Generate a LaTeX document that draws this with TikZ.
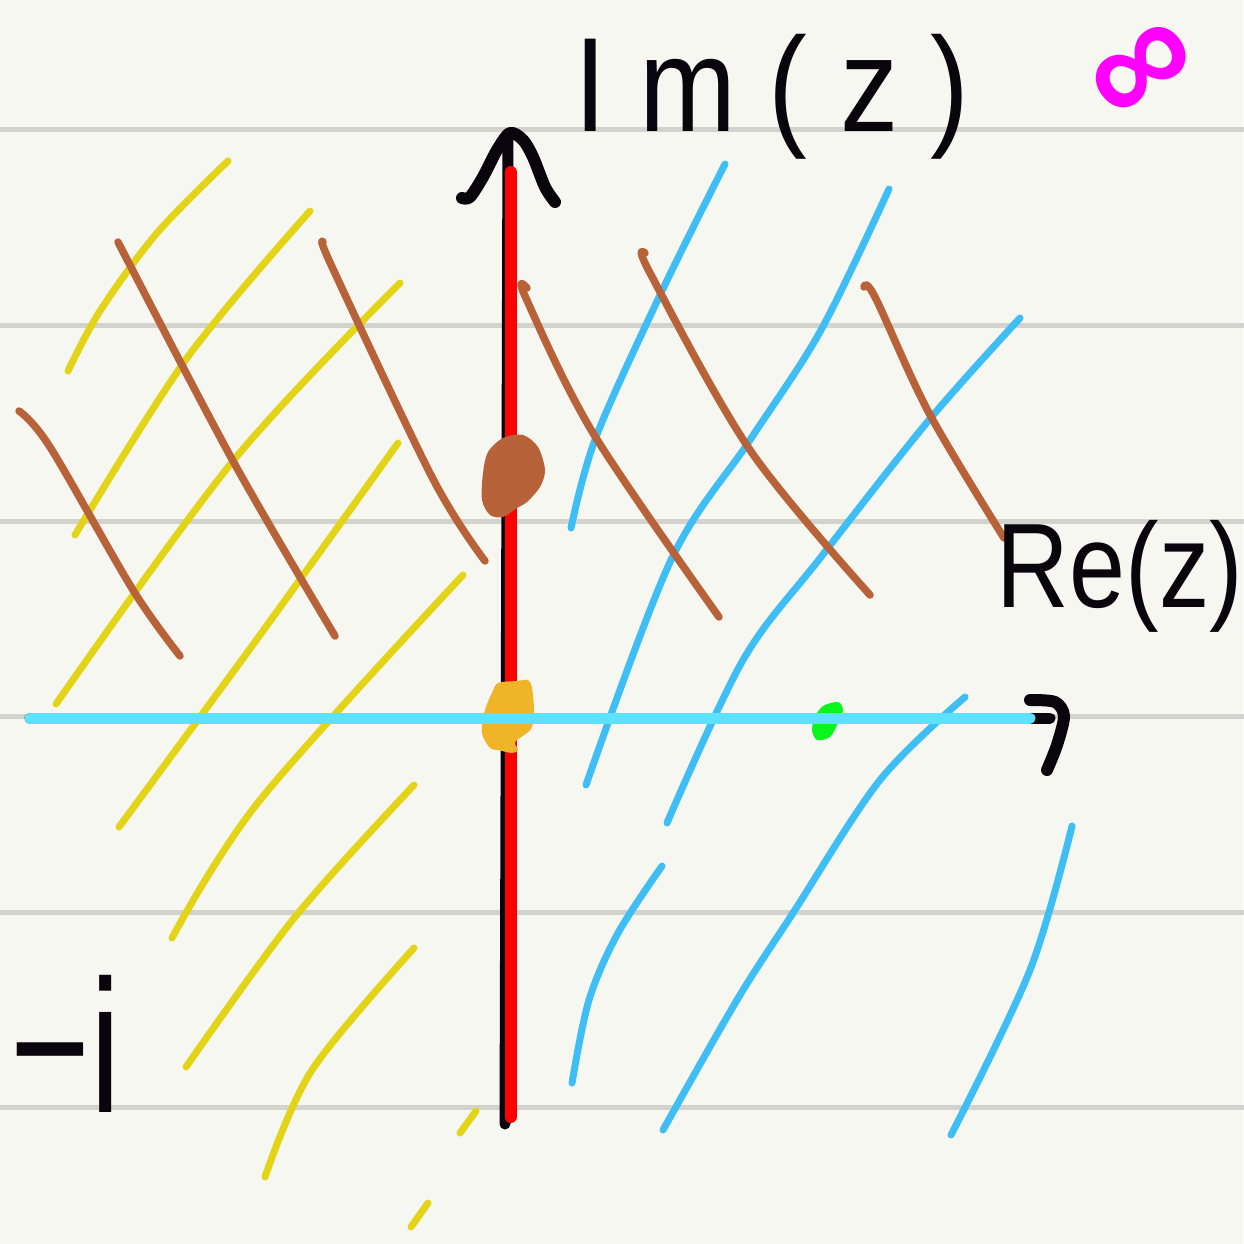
\documentclass[tikz,border=0pt]{standalone}
\usepackage{fontspec}
\usepackage{graphicx}
\setmainfont{Liberation Sans}
\definecolor{paper}{RGB}{246,247,241}
\definecolor{rule}{RGB}{210,211,205}
\definecolor{hyel}{RGB}{227,212,24}
\definecolor{hbrown}{RGB}{184,98,58}
\definecolor{hblue}{RGB}{62,190,245}
\definecolor{axcyan}{RGB}{92,225,255}
\definecolor{axred}{RGB}{255,0,0}
\definecolor{borange}{RGB}{240,180,40}
\definecolor{bgreen}{RGB}{10,245,30}
\definecolor{inkmag}{RGB}{255,0,255}
\definecolor{ink}{RGB}{8,6,12}
\tikzset{
  ruleline/.style={draw=rule,line width=5pt},
  yelline/.style={draw=hyel,line width=7pt},
  brownline/.style={draw=hbrown,line width=7.5pt},
  blueline/.style={draw=hblue,line width=7pt},
  inkline/.style={draw=ink,line width=12pt},
  label/.style={inner sep=0pt,text=ink},
  sm/.style={smooth,tension=0.55}
}
\begin{document}
\begin{tikzpicture}[x=1pt,y=-1pt,line cap=round,line join=round]
\fill[paper] (0,0) rectangle (1243,1244);
\useasboundingbox (0,0) rectangle (1243,1244);
% ruled lines
\foreach \yy in {130,325,521,716,912,1107}
  \draw[ruleline] (-5,\yy) -- (1250,\yy);
% yellow hatching
\draw[yelline] plot[sm] coordinates {(68,371) (100,311) (157,233) (228,161)};
\draw[yelline] plot[sm] coordinates {(75,535) (187,358) (310,211)};
\draw[yelline] plot[sm] coordinates {(56,704) (233,461) (400,283)};
\draw[yelline] plot[sm] coordinates {(119,827) (260,635) (398,443)};
\draw[yelline] plot[sm] coordinates {(172,938) (260,800) (463,575)};
\draw[yelline] plot[sm] coordinates {(186,1067) (295,917) (414,785)};
\draw[yelline] plot[sm] coordinates {(265,1177) (312,1070) (414,948)};
\draw[yelline] (460,1133) -- (476,1111);
\draw[yelline] (411,1227) -- (428,1203);
% blue hatching
\draw[blueline] plot[sm] coordinates {(725,164) (661,293) (596,437) (571,528)};
\draw[blueline] plot[sm] coordinates {(889,189) (821,330) (750,440) (671,560) (586,785)};
\draw[blueline] plot[sm] coordinates {(1020,318) (929,420) (821,557) (743,660) (667,823)};
\draw[blueline] plot[sm] coordinates {(662,866) (618,933) (589,1000) (572,1083)};
\draw[blueline] plot[sm] coordinates {(965,697) (880,780) (793,913) (737,1000) (663,1130)};
\draw[blueline] plot[sm] coordinates {(1072,826) (1030,970) (951,1135)};
% brown hatching
\draw[brownline] plot[sm] coordinates {(19,411) (50,447) (133,590) (180,656)};
\draw[brownline] plot[sm] coordinates {(118,242) (233,461) (335,636)};
\draw[brownline] plot[sm] coordinates {(323,242) (333,269) (433,479) (485,561)};
\draw[brownline] plot[sm] coordinates {(527,288) (525,296) (593,433) (719,617)};
\draw[brownline] plot[sm] coordinates {(645,253) (650,273) (750,450) (870,595)};
\draw[brownline] plot[sm] coordinates {(864,287) (875,297) (929,413) (1004,538)};
% axes
\coordinate (top) at (508,134);
\coordinate (bot) at (505,1124);
\draw[draw=ink,line width=11pt] (bot) -- (top);
\draw[inkline] plot[smooth] coordinates {(462,198) (470,197) (483,177) (497,150) (510,133) (523,140) (533,157) (545,187) (555,202)};
\draw[draw=axred,line width=12pt,line cap=round] (510.5,1117) -- (510.5,172);
\coordinate (hl) at (30,718);
\coordinate (hr) at (1050,718);
\draw[draw=ink,line width=11pt] (hl) -- (hr);
\draw[inkline] plot[smooth] coordinates {(1030,700) (1055,702) (1064,716) (1057,745) (1047,770)};
% points
\fill[hbrown] plot[smooth cycle] coordinates {(503,438) (523,435) (538,447) (545,470) (540,487) (527,502) (517,508) (503,517) (490,515) (482,500) (483,473) (488,452)};
\fill[bgreen] plot[smooth cycle] coordinates {(823,706) (838,702) (843,710) (838,723) (830,737) (817,740) (812,730) (815,717)};
\fill[borange] plot[smooth cycle] coordinates {(498,683) (517,681) (528,680) (532,688) (534,710) (532,727) (527,733) (515,742) (518,750) (512,753) (498,750) (490,748) (482,733) (485,710) (492,693)};
\draw[draw=axcyan,line width=11pt] (hl) -- (1030,718);
% labels
\node[label] (im) at (772,97) {\resizebox*{395pt}{125pt}{\addfontfeatures{LetterSpace=28}Im(z)}};
\node[label] (re) at (1120,576) {\resizebox*{246pt}{112pt}{Re(z)}};
\node[label] (mi) at (66,1044) {\resizebox*{110pt}{137pt}{−i}};
\node[inner sep=0pt,text=inkmag,rotate=36] (inf) at (1146,74) {\resizebox{106pt}{!}{\bfseries ∞}};
\end{tikzpicture}
\end{document}
